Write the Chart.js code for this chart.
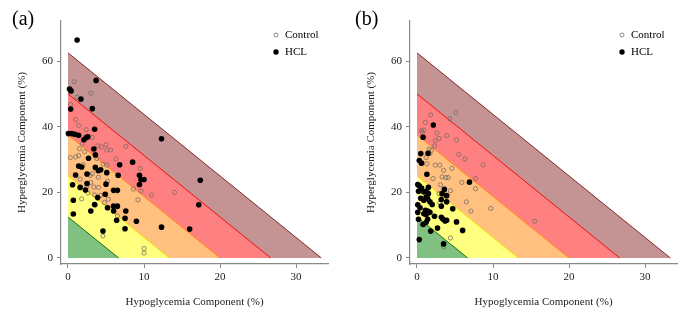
<!DOCTYPE html>
<html>
<head>
<meta charset="utf-8">
<script src="https://cdn.jsdelivr.net/npm/chart.js@4.4.0/dist/chart.umd.min.js"></script>
<style>
  body { margin: 0; background: #fff; }
  canvas { position: absolute; top: 0; }
  #chartA { left: 0; }
  #chartB { left: 340px; }
</style>
</head>
<body>
<canvas id="chartA" width="340" height="313"></canvas>
<canvas id="chartB" width="340" height="313"></canvas>
<script>
var xTicks = [0, 10, 20, 30];
var yTicks = [0, 20, 40, 60];

// GRI zones A..E : intercepts on hypo (x) and hyper (y) axes
var zoneHypo = [6.67, 13.33, 20, 26.67, 33.33];
var zoneHyper = [12.5, 25, 37.5, 50, 62.5];
var zoneFill = ["#80c080", "#ffff80", "#ffc080", "#ff8080", "#c49494"];
var zoneLine = ["#137313", "#f2e200", "#ff8c10", "#ee0f0f", "#842828"];

// panel (a)  [hypo, hyper]
var hclA = [
  [1.2, 66.4], [0.2, 51.5], [0.4, 50.9], [3.7, 54.1], [1.7, 48.4], [0.35, 45.4], [3.2, 45.5],
  [0.05, 37.9], [0.5, 37.9], [0.9, 37.7], [1.4, 37.4], [2.1, 36.0], [2.4, 36.7], [2.6, 36.9],
  [3.5, 39.2], [3.4, 33.2], [3.6, 31.4], [2.7, 30.4], [1.4, 28.0], [1.8, 27.7], [3.6, 27.6],
  [4.0, 26.6], [4.3, 26.9], [6.8, 28.4], [8.5, 29.2], [1.0, 25.3], [2.5, 25.6], [5.1, 26.0],
  [6.6, 25.2], [0.6, 22.3], [1.6, 21.5], [2.5, 22.7], [2.3, 20.7], [5.0, 22.5], [6.0, 20.6],
  [6.5, 20.6], [4.9, 19.4], [3.9, 18.4], [0.7, 17.6], [3.5, 16.3], [6.0, 15.8], [6.5, 15.8],
  [5.2, 15.3], [6.0, 14.3], [3.0, 14.3], [7.6, 14.3], [0.7, 13.4], [6.4, 11.5], [7.5, 12.1],
  [9.0, 11.2], [7.5, 8.9], [4.6, 8.2], [12.3, 9.4], [16.0, 8.8], [9.4, 25.2], [9.6, 23.9],
  [10.0, 23.9], [9.4, 22.4], [12.3, 36.3], [17.4, 23.7], [17.2, 16.2]
];
var ctrlA = [
  [0.8, 53.7], [3.0, 50.2], [1.2, 49.0], [0.35, 46.8], [1.0, 42.2], [1.4, 40.4], [2.4, 39.1],
  [3.2, 36.7], [1.9, 34.8], [3.9, 34.2], [4.4, 33.8], [5.0, 34.5], [5.1, 32.9], [5.6, 32.9],
  [7.6, 34.0], [1.5, 33.3], [0.3, 30.6], [1.0, 30.8], [1.4, 31.2], [3.8, 30.3], [6.3, 30.2],
  [5.1, 28.3], [2.0, 28.4], [3.2, 25.7], [4.0, 24.6], [1.6, 24.0], [3.0, 23.0], [3.4, 21.6],
  [4.0, 21.5], [5.2, 23.4], [3.5, 19.2], [2.6, 19.8], [5.3, 17.9], [4.8, 16.9], [8.6, 21.0],
  [9.6, 20.4], [9.5, 27.3], [9.2, 17.7], [11.0, 19.2], [14.0, 20.0], [6.5, 12.8], [4.6, 6.7],
  [10.0, 2.9], [10.0, 1.5], [3.6, 16.1], [1.8, 18.0], [4.3, 19.1], [2.5, 21.8], [2.9, 25.2],
  [4.6, 28.6], [2.2, 32.4]
];

// panel (b)
var hclB = [
  [2.15, 40.5], [0.8, 36.8], [0.5, 31.8], [1.45, 31.9], [0.3, 29.7], [0.6, 28.9], [1.3, 25.5],
  [6.9, 23.1], [0.1, 22.4], [0.3, 22.0], [0.6, 21.3], [1.5, 21.5], [0.9, 20.1], [1.2, 20.3],
  [0.2, 20.3], [3.6, 20.9], [3.3, 19.6], [3.9, 19.0], [1.5, 19.6], [1.2, 18.6], [0.5, 18.2],
  [1.4, 18.1], [0.9, 17.6], [1.7, 17.1], [3.9, 17.1], [3.2, 17.8], [4.7, 15.0], [0.1, 16.2],
  [2.0, 16.3], [3.2, 15.8], [0.4, 15.3], [1.1, 14.5], [1.4, 14.3], [1.7, 13.9], [0.1, 13.9],
  [0.9, 13.5], [1.2, 13.2], [2.3, 12.7], [3.2, 12.4], [3.4, 11.9], [3.7, 11.3], [3.9, 11.5],
  [0.2, 11.8], [1.4, 11.8], [1.2, 10.9], [0.8, 10.2], [5.2, 11.0], [6.0, 8.4], [1.8, 8.2],
  [2.7, 9.1], [0.3, 5.6], [3.5, 4.3]
];
var ctrlB = [
  [5.1, 44.3], [4.3, 42.4], [1.8, 43.6], [1.1, 41.3], [0.6, 38.8], [0.9, 39.0], [2.6, 38.1],
  [3.9, 37.3], [2.9, 36.4], [2.4, 35.7], [5.2, 35.9], [2.3, 34.1], [1.9, 32.8], [1.7, 31.8],
  [5.5, 31.5], [6.3, 30.2], [1.2, 30.6], [1.3, 28.7], [2.4, 28.3], [3.0, 28.3], [8.7, 28.4],
  [4.6, 27.3], [3.5, 26.7], [2.1, 24.2], [3.3, 24.7], [3.8, 24.5], [4.1, 24.5], [7.7, 24.2],
  [5.9, 23.0], [3.1, 22.3], [4.4, 20.5], [7.7, 21.1], [2.9, 19.6], [6.5, 17.1], [3.0, 16.8],
  [9.7, 15.1], [7.1, 14.3], [15.5, 11.2], [4.4, 6.1], [3.5, 3.4], [1.6, 33.2], [0.7, 38.2]
];

var serif = '"Liberation Serif", "Times New Roman", serif';
var ctrlColor = '#7a6c66';

function pts(list) {
  return list.map(function (p) { return { x: p[0], y: p[1] }; });
}

var extras = {
  id: 'extras',
  afterDraw: function (chart, args, o) {
    var c = chart.ctx;
    c.save();
    c.fillStyle = '#000';
    c.textBaseline = 'middle';
    c.font = '20px ' + serif;
    c.fillText(o.label, o.labelX, 20);
    // legend
    c.font = '11px ' + serif;
    c.beginPath();
    c.arc(o.legendX, 35, 2, 0, Math.PI * 2);
    c.strokeStyle = ctrlColor;
    c.lineWidth = 0.8;
    c.stroke();
    c.fillText('Control', o.legendX + 9, 35);
    c.beginPath();
    c.arc(o.legendX, 52, 2.7, 0, Math.PI * 2);
    c.fill();
    c.fillText('HCL', o.legendX + 9, 52);
    c.restore();
  }
};

function makeChart(id, hcl, ctrl, label, labelX, legendX, padLeft, padRight) {
  var datasets = [
    { type: 'scatter', label: 'HCL', data: pts(hcl), pointRadius: 2.8, pointHoverRadius: 2.8,
      backgroundColor: '#000', borderWidth: 0 },
    { type: 'scatter', label: 'Control', data: pts(ctrl), pointRadius: 2.1, pointHoverRadius: 2.1,
      backgroundColor: 'rgba(0,0,0,0)', borderColor: ctrlColor, borderWidth: 0.8 }
  ];
  for (var i = 0; i < zoneHypo.length; i++) {
    datasets.push({
      type: 'line',
      label: 'zone' + i,
      data: [{ x: 0, y: zoneHyper[i] }, { x: zoneHypo[i], y: 0 }],
      borderColor: zoneLine[i],
      borderWidth: 1,
      backgroundColor: zoneFill[i],
      fill: 'origin',
      pointRadius: 0
    });
  }
  return new Chart(document.getElementById(id), {
    type: 'scatter',
    data: { datasets: datasets },
    options: {
      responsive: false,
      animation: false,
      layout: { padding: { left: padLeft, right: padRight, top: 21, bottom: 0 } },
      plugins: {
        legend: { display: false },
        tooltip: { enabled: false },
        extras: { label: label, labelX: labelX, legendX: legendX }
      },
      scales: {
        x: {
          type: 'linear', min: -0.92, max: 34.2,
          afterBuildTicks: function (s) { s.ticks = xTicks.map(function (v) { return { value: v }; }); },
          afterFit: function (s) { s.height = 49; },
          ticks: { color: '#222', font: { family: serif, size: 11 }, padding: 3 },
          grid: { drawOnChartArea: false, tickLength: 4, color: '#888' },
          border: { color: '#888', width: 1.2 },
          title: { display: true, text: 'Hypoglycemia Component (%)', color: '#222',
                   font: { family: serif, size: 11 }, padding: { top: 0, bottom: 4 } }
        },
        y: {
          type: 'linear', min: -1.83, max: 72.2,
          afterBuildTicks: function (s) { s.ticks = yTicks.map(function (v) { return { value: v }; }); },
          afterFit: function (s) { s.width = 61; },
          ticks: { color: '#222', font: { family: serif, size: 11 }, padding: 4 },
          grid: { drawOnChartArea: false, tickLength: 4, color: '#888' },
          border: { color: '#888', width: 1.2 },
          title: { display: true, text: 'Hyperglycemia Component (%)', color: '#222',
                   font: { family: serif, size: 11 }, padding: { top: 16, bottom: 0 } }
        }
      }
    },
    plugins: [extras]
  });
}

makeChart('chartA', hclA, ctrlA, '(a)', 12, 276, 0, 12);
makeChart('chartB', hclB, ctrlB, '(b)', 15, 282, 9, 3);
</script>
</body>
</html>
